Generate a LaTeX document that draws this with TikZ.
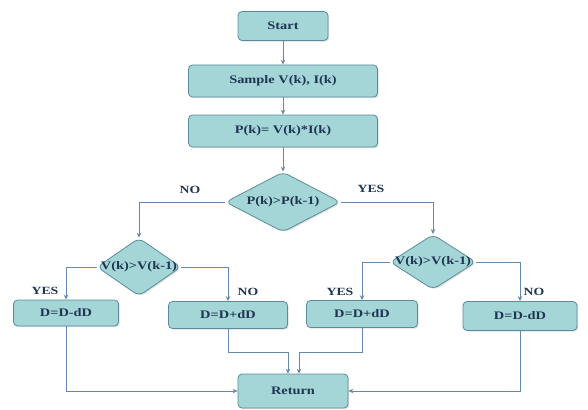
\documentclass[tikz,border=0pt]{standalone}
\usepackage{fontspec}
\setmainfont[FakeStretch=1.25]{Liberation Serif}
\usetikzlibrary{shapes.geometric,arrows.meta,shadows}
\definecolor{boxfill}{HTML}{A4D6D8}
\definecolor{boxdraw}{HTML}{5A8C9C}
\definecolor{linec}{HTML}{6589AA}
\definecolor{txtc}{HTML}{1F3552}
\tikzset{
  base/.style={draw=boxdraw, fill=boxfill, line width=0.8pt, text=txtc,
    font=\bfseries\fontsize{11.5}{13}\selectfont, inner sep=0pt,
    drop shadow={shadow xshift=1.2pt, shadow yshift=-1.2pt, opacity=0.25}},
  procbox/.style={base, rectangle, rounded corners=4pt},
  decbox/.style={base, diamond, rounded corners=6pt},
  dtext/.style={text=txtc, font=\bfseries\fontsize{11.5}{13}\selectfont, inner sep=0pt},
  arr/.style={draw=linec, line width=0.8pt, -{Stealth[length=5pt,width=4.5pt]}},
  lbl/.style={text=txtc, font=\bfseries\fontsize{11}{13}\selectfont}
}
\begin{document}
\begin{tikzpicture}[x=1pt,y=-1pt]
\useasboundingbox (0,0) rectangle (588,409);
\node[procbox, minimum width=90pt, minimum height=29pt] (start) at (283,26) {Start};
\node[procbox, minimum width=189pt, minimum height=32pt] (samp) at (283,81) {Sample V(k), I(k)};
\node[procbox, minimum width=189pt, minimum height=32pt] (pk) at (283,131) {P(k)= V(k)*I(k)};
\node[decbox, minimum width=115pt, minimum height=60pt, label={[dtext]center:P(k)>P(k-1)}] (dm) at (283,202) {};
\node[decbox, minimum width=84pt, minimum height=58pt, label={[dtext]center:V(k)>V(k-1)}] (dl) at (139,267) {};
\node[decbox, minimum width=86pt, minimum height=55pt, label={[dtext]center:V(k)>V(k-1)}] (dr) at (433,262) {};
\node[procbox, minimum width=105pt, minimum height=26pt] (b1) at (66,313) {D=D-dD};
\node[procbox, minimum width=119pt, minimum height=27pt] (b2) at (228,315) {D=D+dD};
\node[procbox, minimum width=111pt, minimum height=27pt] (b3) at (362,314) {D=D+dD};
\node[procbox, minimum width=114pt, minimum height=29pt] (b4) at (520,316) {D=D-dD};
\node[procbox, minimum width=110pt, minimum height=34pt] (ret) at (293,391) {Return};
\coordinate (m1) at (288,352);
\coordinate (m2) at (299,352);
\draw[arr] (start) -- (samp);
\draw[arr] (samp) -- (pk);
\draw[arr] (pk) -- (dm);
\draw[arr] (dm.west) -| (dl.north);
\draw[arr] (dm.east) -| (dr.north);
\draw[arr] (dl.west) -| (b1.north);
\draw[arr] (dl.east) -| (b2.north);
\draw[arr] (dr.west) -| (b3.north);
\draw[arr] (dr.east) -| (b4.north);
\draw[arr] (b1.south) |- (ret.west);
\draw[arr] (b4.south) |- (ret.east);
\draw[arr] (b2.south) |- (m1) -- (m1 |- ret.north);
\draw[arr] (b3.south) |- (m2) -- (m2 |- ret.north);
\node[lbl] (lno) at (190,190) {NO};
\node[lbl] (lyes) at (371,189) {YES};
\node[lbl] (l1) at (45,291) {YES};
\node[lbl] (l2) at (248,292) {NO};
\node[lbl] (l3) at (340,292) {YES};
\node[lbl] (l4) at (534,292) {NO};
\end{tikzpicture}
\end{document}
